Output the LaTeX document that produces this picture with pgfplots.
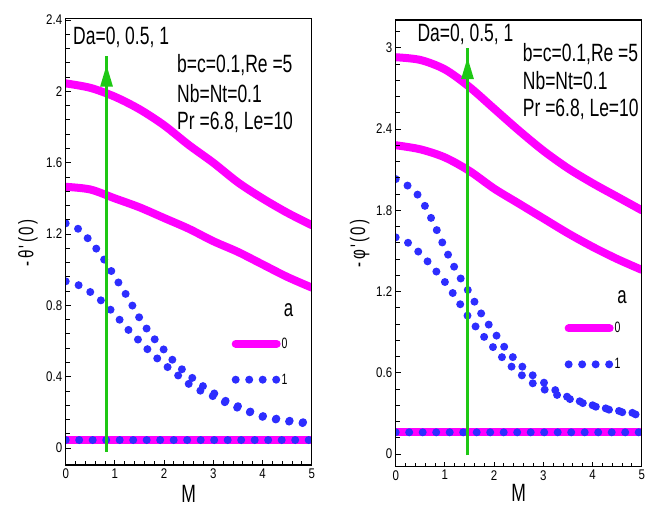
\documentclass[border=0pt]{standalone}
\usepackage{fontspec}
\setmainfont{Liberation Sans}
\newfontfamily\narrowfont[FakeStretch=0.7]{Liberation Sans}
\newfontfamily\tickfont[FakeStretch=0.82]{Liberation Sans}
\newfontfamily\ylabfont[FakeStretch=0.72,LetterSpace=11]{Liberation Sans}
\usepackage{pgfplots}
\pgfplotsset{compat=1.18}
\usetikzlibrary{arrows.meta}

\definecolor{mag}{RGB}{255,0,255}
\definecolor{dotblue}{RGB}{45,45,255}
\definecolor{arrowgreen}{RGB}{30,200,20}

\newcommand\annot{\narrowfont\fontsize{25}{25}\selectfont}
\newcommand\legfont{\narrowfont\fontsize{15}{15}\selectfont}
\newcommand\ticks{\tickfont\fontsize{14}{14}\selectfont}
\newcommand\ylab{\ylabfont\fontsize{21}{21}\selectfont}
\newcommand\titlefont{\narrowfont\fontsize{24}{24}\selectfont}

\pgfplotsset{
  panel/.style={
    scale only axis, anchor=south west,
    width=246pt, height=446.7pt,
    xmin=0, xmax=5, xtick={0,1,2,3,4,5}, minor xtick={0,0.2,...,5},
    tick pos=left, tick align=inside,
    major tick length=5pt, minor tick length=4pt,
    every tick/.style={black, line width=0.9pt},
    axis line style={line width=1.5pt},
    axis on top,
    /pgf/number format/assume math mode=true,
    ticklabel style={font=\ticks},
    xlabel={M},
    xlabel style={font=\annot, anchor=center, inner sep=0pt},
    ylabel style={font=\ylab, anchor=center},
    legend cell align=left,
    legend style={draw=none, fill=none, inner sep=0pt, row sep=22pt,
      font=\legfont, anchor=north west,
      nodes={inner sep=1pt}},
    legend image code/.code={\draw[#1] (0pt,0pt) -- (41pt,0pt);},
  },
  magline/.style={mag, line width=8pt, line cap=round},
  blueline/.style={dotblue, line width=8pt, line cap=round,
    dash pattern=on 0pt off 13.5pt},
}

\begin{document}
\begin{tikzpicture}
\path[use as bounding box] (0pt,0pt) rectangle (654pt,506pt);

% left panel: -theta'(0)
\begin{axis}[panel, at={(65.7pt,41pt)},
    ymin=-0.095, ymax=2.41,
    ytick={0,0.4,0.8,1.2,1.6,2,2.4}, minor ytick={0,0.08,...,2.4},
    ylabel={-θ'(0)},
    ylabel style={at={(axis description cs:-0.153,0.497)}},
    xlabel style={at={(axis description cs:0.5,-0.064)}},
    legend style={at={(axis cs:3.37,0.625)}}]
\addplot[magline, smooth] coordinates {
  (0,2.045) (0.5,2.02) (1,1.97) (1.5,1.90) (2,1.81) (2.5,1.70)
  (3,1.60) (3.5,1.49) (4,1.40) (4.5,1.32) (5,1.25)};
\addlegendentry{0}
\addplot[magline, smooth, forget plot] coordinates {
  (0,1.465) (0.5,1.45) (1,1.40) (1.5,1.35) (2,1.29) (2.5,1.23)
  (3,1.16) (3.5,1.10) (4,1.03) (4.5,0.96) (5,0.90)};
\addplot[blueline, smooth] coordinates {
  (0,1.26) (0.25,1.23) (0.5,1.16) (0.75,1.07) (1,0.96) (1.25,0.85)
  (1.5,0.73) (1.75,0.63) (2,0.55) (2.25,0.47) (2.5,0.41) (2.75,0.355)
  (3,0.31) (3.25,0.265) (3.5,0.235) (3.75,0.205) (4,0.18) (4.5,0.155) (5,0.14)};
\addlegendentry{1}
\addplot[blueline, smooth, forget plot] coordinates {
  (0,0.935) (0.25,0.915) (0.5,0.875) (0.75,0.82) (1,0.75) (1.25,0.67)
  (1.5,0.60) (1.75,0.53) (2,0.47) (2.25,0.415) (2.5,0.36) (2.75,0.32)
  (3,0.29) (3.25,0.255) (3.5,0.225) (3.75,0.20) (4,0.175) (4.5,0.15) (5,0.135)};
\addplot[mag, line width=8pt, forget plot] coordinates {(0,0.045) (5,0.045)};
\addplot[blueline, forget plot] coordinates {(0,0.045) (5,0.045)};
\addplot[arrowgreen, line width=3pt, forget plot] coordinates {(0.83,-0.02) (0.83,2.2)};
\draw[arrowgreen, line width=3pt, -{Triangle[length=22pt,width=12pt]}]
  (axis cs:0.83,2.0) -- (axis cs:0.83,2.15);
\node[font=\titlefont, inner sep=0pt] at (axis cs:4.53,0.774) {a};
\end{axis}

% right panel: -phi'(0)
\begin{axis}[panel, at={(395.7pt,39.3pt)},
    ymin=-0.094, ymax=3.205,
    ytick={0,0.6,1.2,1.8,2.4,3}, minor ytick={0,0.12,...,3.13},
    ylabel={-φ'(0)},
    ylabel style={at={(axis description cs:-0.146,0.50)}},
    xlabel style={at={(axis description cs:0.5,-0.058)}},
    legend style={at={(axis cs:3.43,0.98)}}]
\addplot[magline, smooth] coordinates {
  (0,2.93) (0.5,2.91) (1,2.84) (1.5,2.71) (2,2.55) (2.5,2.39)
  (3,2.24) (3.5,2.11) (4,2.00) (4.5,1.90) (5,1.80)};
\addlegendentry{0}
\addplot[magline, smooth, forget plot] coordinates {
  (0,2.28) (0.5,2.25) (1,2.19) (1.5,2.09) (2,1.96) (2.5,1.85)
  (3,1.74) (3.5,1.63) (4,1.53) (4.5,1.44) (5,1.36)};
\addplot[blueline, smooth] coordinates {
  (0,2.03) (0.25,1.98) (0.5,1.89) (0.75,1.72) (1,1.52) (1.25,1.34)
  (1.5,1.19) (1.75,1.03) (2,0.90) (2.25,0.77) (2.5,0.67) (2.75,0.59)
  (3,0.53) (3.25,0.47) (3.5,0.42) (4,0.36) (4.5,0.32) (5,0.295)};
\addlegendentry{1}
\addplot[blueline, smooth, forget plot] coordinates {
  (0,1.60) (0.25,1.56) (0.5,1.48) (0.75,1.38) (1,1.27) (1.25,1.14)
  (1.5,1.00) (1.75,0.885) (2,0.78) (2.25,0.68) (2.5,0.60) (2.75,0.53)
  (3,0.48) (3.25,0.44) (3.5,0.41) (4,0.355) (4.5,0.315) (5,0.285)};
\addplot[mag, line width=8pt, forget plot] coordinates {(0,0.16) (5,0.16)};
\addplot[blueline, forget plot] coordinates {(0,0.16) (5,0.16)};
\addplot[arrowgreen, line width=3pt, forget plot] coordinates {(1.46,-0.01) (1.46,3.0)};
\draw[arrowgreen, line width=3pt, -{Triangle[length=22pt,width=12pt]}]
  (axis cs:1.46,2.76) -- (axis cs:1.46,2.93);
\node[font=\titlefont, inner sep=0pt] at (axis cs:4.60,1.16) {a};
\end{axis}

% parameter annotations
\begin{scope}[every node/.style={font=\annot, inner sep=0pt, anchor=base west}]
\node at (73pt,461pt) {Da=0, 0.5, 1};
\node at (177pt,433pt) {b=c=0.1,Re =5};
\node at (177pt,403.5pt) {Nb=Nt=0.1};
\node at (177pt,376.5pt) {Pr =6.8, Le=10};
\node at (417.3pt,464.3pt) {Da=0, 0.5, 1};
\node at (522.7pt,444.3pt) {b=c=0.1,Re =5};
\node at (522.7pt,416.7pt) {Nb=Nt=0.1};
\node at (522.7pt,389.3pt) {Pr =6.8, Le=10};
\end{scope}
\end{tikzpicture}
\end{document}
